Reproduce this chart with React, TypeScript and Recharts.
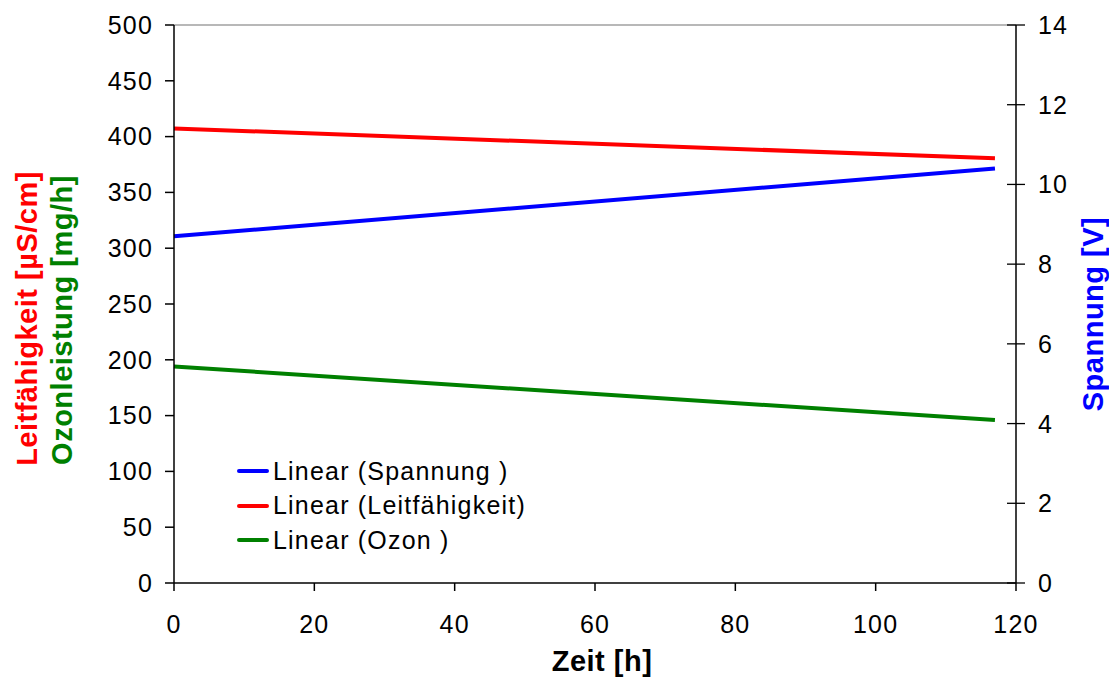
import { LineChart, Line, XAxis, YAxis, ReferenceLine, Legend } from "recharts";

// linear trend endpoints per series
const timeH = [0, 117];
const spannungV = [8.7, 10.4];
const leitfaehigkeit = [407.3, 380.5];
const ozonMgH = [194, 146];

const xTicks = [0, 20, 40, 60, 80, 100, 120];
const leftTicks = [0, 50, 100, 150, 200, 250, 300, 350, 400, 450, 500];
const rightTicks = [0, 2, 4, 6, 8, 10, 12, 14];

const legendItems = [
  { label: "Linear (Spannung )", color: "#0000ff" },
  { label: "Linear (Leitfähigkeit)", color: "#ff0000" },
  { label: "Linear (Ozon )", color: "#008000" },
];

const rows = timeH.map((t, i) => ({
  t,
  spannung: spannungV[i],
  leit: leitfaehigkeit[i],
  ozon: ozonMgH[i],
}));

const FONT = "'Liberation Sans', Arial, sans-serif";
const W = 1109;
const H = 679;
const tickFont = { fontSize: 25, fill: "#000", fontFamily: FONT, letterSpacing: 1.2 };

// right axis ticks cross the axis line on both sides
const RightTick = (props: any) => {
  const { x, y, payload } = props;
  return (
    <g>
      <line x1={x - 9} x2={x + 9} y1={y} y2={y} stroke="#000" strokeWidth={1.3} />
      <text x={x + 22} y={y} dy="0.36em" {...tickFont}>
        {payload.value}
      </text>
    </g>
  );
};

const LegendBox = () => (
  <div style={{ fontFamily: FONT, fontSize: 25, letterSpacing: 1.2, color: "#000" }}>
    {legendItems.map((it) => (
      <div key={it.label} style={{ display: "flex", alignItems: "center", height: 34.5 }}>
        <span style={{ width: 32, height: 4, background: it.color, marginRight: 4, borderRadius: 2 }} />
        <span>{it.label}</span>
      </div>
    ))}
  </div>
);

export default function App() {
  return (
    <div style={{ position: "absolute", left: 0, top: 0, width: W, height: H, background: "#fff" }}>
      <LineChart
        width={W}
        height={H}
        data={rows}
        margin={{ top: 25, right: 33, bottom: 66, left: 114 }}
      >
        <XAxis
          dataKey="t"
          type="number"
          domain={[0, 120]}
          ticks={xTicks}
          height={30}
          stroke="#000"
          strokeWidth={1.5}
          tickSize={8}
          tickMargin={24}
          tick={tickFont}
        />
        <YAxis
          yAxisId="left"
          domain={[0, 500]}
          ticks={leftTicks}
          width={60}
          stroke="#000"
          strokeWidth={1.5}
          tickSize={9}
          tickMargin={12}
          tick={tickFont}
        />
        <YAxis
          yAxisId="right"
          orientation="right"
          domain={[0, 14]}
          ticks={rightTicks}
          width={60}
          stroke="#000"
          strokeWidth={1.5}
          tickSize={0}
          tickMargin={0}
          tick={<RightTick />}
        />
        <ReferenceLine yAxisId="left" y={500} stroke="#a0a0a0" strokeWidth={1.5} />
        <Line
          yAxisId="right"
          dataKey="spannung"
          stroke="#0000ff"
          strokeWidth={4}
          dot={false}
          isAnimationActive={false}
        />
        <Line
          yAxisId="left"
          dataKey="leit"
          stroke="#ff0000"
          strokeWidth={4}
          dot={false}
          isAnimationActive={false}
        />
        <Line
          yAxisId="left"
          dataKey="ozon"
          stroke="#008000"
          strokeWidth={4}
          dot={false}
          isAnimationActive={false}
        />
        <Legend
          layout="vertical"
          verticalAlign="middle"
          align="center"
          content={<LegendBox />}
          wrapperStyle={{ left: 237, top: 454, width: "auto" }}
        />
      </LineChart>

      {/* axis titles */}
      <svg
        width={W}
        height={H}
        style={{ position: "absolute", left: 0, top: 0, pointerEvents: "none" }}
        fontFamily={FONT}
        fontWeight="bold"
        fontSize={29}
        letterSpacing={0.5}
      >
        <text x={602} y={671} textAnchor="middle" fill="#000">
          Zeit [h]
        </text>
        <text transform="translate(37,318.5) rotate(-90)" textAnchor="middle" fill="#ff0000">
          Leitfähigkeit [µS/cm]
        </text>
        <text transform="translate(72,320) rotate(-90)" textAnchor="middle" fill="#008000">
          Ozonleistung [mg/h]
        </text>
        <text transform="translate(1103,314) rotate(-90)" textAnchor="middle" fill="#0000ff">
          Spannung [V]
        </text>
      </svg>
    </div>
  );
}
